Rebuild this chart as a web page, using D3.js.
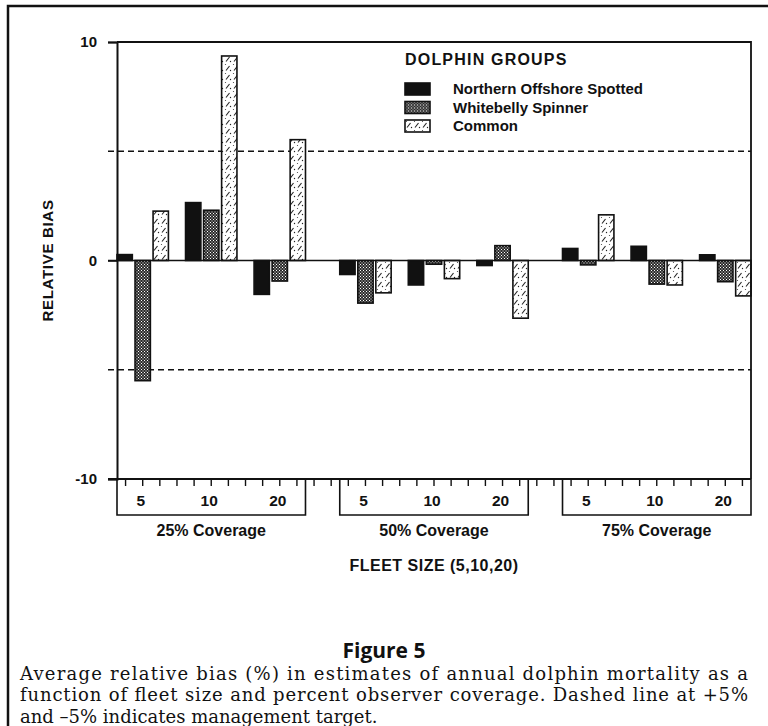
<!DOCTYPE html>
<html>
<head>
<meta charset="utf-8">
<script src="https://cdn.jsdelivr.net/npm/d3@7"></script>
<style>
  html, body { margin: 0; padding: 0; background: #fff; }
  svg { display: block; }
  .sans { font-family: "Liberation Sans", Arial, Helvetica, sans-serif; }
</style>
</head>
<body>
<svg id="chart" width="768" height="726"></svg>
<script>
// ---------------- data ----------------
const coverage = ["25% Coverage", "50% Coverage", "75% Coverage"];
const fleetSizes = ["5", "10", "20"];
const dolphinGroups = ["Northern Offshore Spotted", "Whitebelly Spinner", "Common"];
// values ordered by coverage (25,50,75) then fleet size (5,10,20)
const northernOffshoreSpotted = [0.27, 2.65, -1.55, -0.64, -1.12, -0.23, 0.55, 0.65, 0.26];
const whitebellySpinner      = [-5.5, 2.3, -0.94, -1.95, -0.17, 0.68, -0.2, -1.08, -0.97];
const common                 = [2.26, 9.36, 5.53, -1.48, -0.83, -2.64, 2.09, -1.12, -1.62];
const yTicks = [-10, 0, 10];
const targetLines = [-5, 5];
const captionTitle = "Figure 5";
const captionLines = [
  "Average relative bias (%) in estimates of annual dolphin mortality as a",
  "function of fleet size and percent observer coverage. Dashed line at +5%",
  "and \u20135% indicates management target."
];

(function () {
// ---------------- build ----------------
const seriesValues = [northernOffshoreSpotted, whitebellySpinner, common];
const rows = [];
coverage.forEach((c, ci) => fleetSizes.forEach((f, fi) => dolphinGroups.forEach((g, gi) => {
  rows.push({ coverage: c, fleet: f, group: g, value: seriesValues[gi][ci * 3 + fi] });
})));

const svg = d3.select("#chart");
const mLeft = 117, mRight = 751, mTop = 42, mBottom = 479;

const x0 = d3.scaleBand().domain(coverage).range([mLeft, mRight]).paddingInner(2 / 13).paddingOuter(0);
const x1 = d3.scaleBand().domain(fleetSizes).range([0, x0.bandwidth()]).paddingInner(0.25).paddingOuter(0);
const x2 = d3.scaleBand().domain(dolphinGroups).range([0, x1.bandwidth()]).paddingInner(0.15).paddingOuter(0);
const y = d3.scaleLinear().domain([-10, 10]).range([mBottom, mTop]);
const slot = x1.step() / 4;

// patterns
const defs = svg.append("defs");
const pWS = defs.append("pattern").attr("id", "pWS").attr("patternUnits", "userSpaceOnUse")
  .attr("width", 3).attr("height", 3);
pWS.append("rect").attr("width", 3).attr("height", 3).attr("fill", "#2a2a2a");
pWS.append("rect").attr("x", 0).attr("y", 0).attr("width", 1).attr("height", 1).attr("fill", "#fff");
pWS.append("rect").attr("x", 1.5).attr("y", 1.5).attr("width", 1).attr("height", 1).attr("fill", "#fff");

const pC = defs.append("pattern").attr("id", "pC").attr("patternUnits", "userSpaceOnUse")
  .attr("width", 8).attr("height", 9);
pC.append("rect").attr("width", 8).attr("height", 9).attr("fill", "#fff");
pC.append("line").attr("x1", 2).attr("y1", 7.5).attr("x2", 5.5).attr("y2", 3)
  .attr("stroke", "#222").attr("stroke-width", 1.1);
pC.append("circle").attr("cx", 6.5).attr("cy", 7.5).attr("r", 0.7).attr("fill", "#222");
pC.append("circle").attr("cx", 1.5).attr("cy", 1.5).attr("r", 0.6).attr("fill", "#444");

const fills = d3.scaleOrdinal().domain(dolphinGroups).range(["#111", "url(#pWS)", "url(#pC)"]);

// frame (scan border)
svg.append("path").attr("d", "M8,726 V6 H768").attr("fill", "none").attr("stroke", "#111").attr("stroke-width", 2.5);

// reference (dashed) lines
svg.selectAll("line.target").data(targetLines).join("line").attr("class", "target")
  .attr("x1", mLeft - 9).attr("x2", mRight).attr("y1", d => y(d)).attr("y2", d => y(d))
  .attr("stroke", "#111").attr("stroke-width", 1.3).attr("stroke-dasharray", "6,4");

// bars
svg.append("g").selectAll("rect").data(rows).join("rect")
  .attr("x", d => x0(d.coverage) + x1(d.fleet) + x2(d.group))
  .attr("width", x2.bandwidth())
  .attr("y", d => y(Math.max(0, d.value)))
  .attr("height", d => Math.abs(y(d.value) - y(0)))
  .attr("fill", d => fills(d.group))
  .attr("stroke", "#111").attr("stroke-width", 1.6);

// zero line
svg.append("line").attr("x1", mLeft - 9).attr("x2", mRight).attr("y1", y(0)).attr("y2", y(0))
  .attr("stroke", "#111").attr("stroke-width", 1.6);

// plot frame: top, right, bottom
svg.append("path").attr("d", `M${mLeft},${mTop} H${mRight} V${mBottom}`).attr("fill", "none")
  .attr("stroke", "#111").attr("stroke-width", 1.8);
svg.append("line").attr("x1", mLeft - 9).attr("x2", mRight).attr("y1", mBottom).attr("y2", mBottom)
  .attr("stroke", "#111").attr("stroke-width", 2);

// y axis
const yAxis = svg.append("g").attr("transform", `translate(${mLeft},0)`)
  .call(d3.axisLeft(y).tickValues(yTicks).tickSize(9).tickPadding(11).tickFormat(d => String(d)));
yAxis.select(".domain").attr("stroke", "#111").attr("stroke-width", 2);
yAxis.selectAll(".tick line").attr("stroke", "#111").attr("stroke-width", 1.6);
yAxis.selectAll(".tick text").attr("class", "sans").attr("font-size", 15).attr("font-weight", "bold").attr("fill", "#111");

// bottom slot ticks
const tickXs = d3.range(mLeft + slot / 2, mRight, slot);
svg.append("g").selectAll("line").data(tickXs).join("line")
  .attr("x1", d => d).attr("x2", d => d).attr("y1", mBottom).attr("y2", mBottom + 7)
  .attr("stroke", "#111").attr("stroke-width", 1.4);

// coverage boxes
const boxBottom = mBottom + 36;
svg.append("g").selectAll("path").data(coverage).join("path")
  .attr("d", d => `M${x0(d)},${mBottom} V${boxBottom} H${x0(d) + x0.bandwidth()} V${mBottom}`)
  .attr("fill", "none").attr("stroke", "#111").attr("stroke-width", 1.6);

// fleet labels
const fleetRows = [];
coverage.forEach(c => fleetSizes.forEach(f => fleetRows.push({ c, f })));
svg.append("g").selectAll("text").data(fleetRows).join("text").attr("class", "sans")
  .attr("x", d => x0(d.c) + x1(d.f) + x1.bandwidth() / 2 - 2)
  .attr("y", mBottom + 27).attr("text-anchor", "middle")
  .attr("font-size", 15.5).attr("font-weight", "bold").attr("fill", "#111")
  .text(d => d.f);

// coverage labels
svg.append("g").selectAll("text").data(coverage).join("text").attr("class", "sans")
  .attr("x", d => x0(d) + x0.bandwidth() / 2).attr("y", boxBottom + 21)
  .attr("text-anchor", "middle").attr("font-size", 16).attr("font-weight", "bold").attr("fill", "#111")
  .text(d => d);

// x title
svg.append("text").attr("class", "sans").attr("x", (mLeft + mRight) / 2).attr("y", 571)
  .attr("text-anchor", "middle").attr("font-size", 16).attr("font-weight", "bold")
  .attr("letter-spacing", 0.5).attr("fill", "#111")
  .text("FLEET SIZE (5,10,20)");

// y title
svg.append("text").attr("class", "sans").attr("transform", `translate(53,${y(0)}) rotate(-90)`)
  .attr("text-anchor", "middle").attr("font-size", 15).attr("font-weight", "bold")
  .attr("letter-spacing", 0.7).attr("fill", "#111")
  .text("RELATIVE BIAS");

// legend
const lg = svg.append("g").attr("transform", "translate(405,0)");
lg.append("text").attr("class", "sans").attr("x", 0).attr("y", 65)
  .attr("font-size", 16).attr("font-weight", "bold").attr("letter-spacing", 1.2)
  .attr("fill", "#111").text("DOLPHIN GROUPS");
const li = lg.selectAll("g.item").data(dolphinGroups).join("g").attr("class", "item")
  .attr("transform", (d, i) => `translate(0,${83 + i * 18.5})`);
li.append("rect").attr("width", 25).attr("height", 12).attr("fill", d => fills(d))
  .attr("stroke", "#111").attr("stroke-width", 1.6);
li.append("text").attr("class", "sans").attr("x", 48).attr("y", 11)
  .attr("font-size", 15).attr("font-weight", "bold").attr("fill", "#111").text(d => d);

// caption
svg.append("text").attr("x", 384).attr("y", 658).attr("text-anchor", "middle")
  .attr("font-family", "'Open Sans', 'Noto Sans', sans-serif").attr("font-size", 21).attr("font-weight", "bold")
  .attr("fill", "#111").text(captionTitle);
svg.append("g").selectAll("text").data(captionLines).join("text")
  .attr("x", 20).attr("y", (d, i) => 679.5 + i * 21.5)
  .attr("font-family", "'DejaVu Serif', serif").attr("font-size", 18).attr("fill", "#111")
  .attr("textLength", (d, i) => i < 2 ? 728 : null)
  .attr("lengthAdjust", "spacing")
  .text(d => d);
})();
</script>
</body>
</html>
